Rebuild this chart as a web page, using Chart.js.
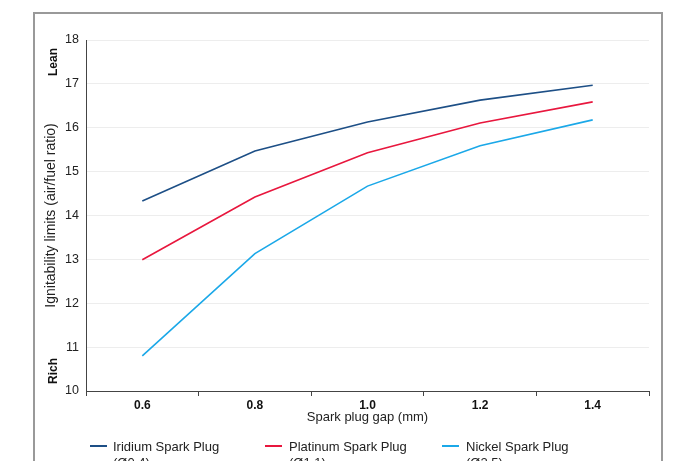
<!DOCTYPE html>
<html>
<head>
<meta charset="utf-8">
<script src="https://cdn.jsdelivr.net/npm/chart.js@4.4.1/dist/chart.umd.min.js"></script>
<style>
  html, body { margin:0; padding:0; background:#fff; overflow:hidden; width:675px; height:461px; }
  #frame { position:absolute; left:33px; top:12px; width:630px; height:470px; border:2px solid #999; border-bottom:none; box-sizing:border-box; }
  #c { position:absolute; left:0; top:0; }
  .lg { position:absolute; top:439px; font-family:"Liberation Sans", Arial, sans-serif; font-size:13px; line-height:16px; color:#222; }
  .sw { position:absolute; top:445px; width:17px; height:2px; }
</style>
</head>
<body>
<div id="frame"></div>
<canvas id="c" width="675" height="461"></canvas>
<div id="legend"></div>
<script>
const categories = ['0.6', '0.8', '1.0', '1.2', '1.4'];
const iridium  = [14.33, 15.47, 16.13, 16.63, 16.97];
const platinum = [12.99, 14.42, 15.43, 16.11, 16.59];
const nickel   = [10.80, 13.13, 14.67, 15.59, 16.18];
const seriesNames = ['Iridium Spark Plug', 'Platinum Spark Plug', 'Nickel Spark Plug'];
const seriesSizes = ['(Ø0.4)', '(Ø1.1)', '(Ø2.5)'];
const colors = ['#1d4f86', '#e8173e', '#1ba8e8'];
const yTitle = 'Ignitability limits (air/fuel ratio)';
const xTitle = 'Spark plug gap (mm)';

const FONT = '"Liberation Sans", Arial, sans-serif';

const sideLabels = {
  id: 'sideLabels',
  afterDraw(chart) {
    const ctx = chart.ctx;
    ctx.save();
    ctx.fillStyle = '#111';
    ctx.font = 'bold 12px ' + FONT;
    ctx.textAlign = 'center';
    ctx.textBaseline = 'middle';
    [['Lean', 62], ['Rich', 371]].forEach(([t, py]) => {
      ctx.save();
      ctx.translate(54, py);
      ctx.rotate(-Math.PI / 2);
      ctx.fillText(t, 0, 0);
      ctx.restore();
    });
    ctx.restore();
  }
};

new Chart(document.getElementById('c'), {
  type: 'line',
  data: {
    labels: categories,
    datasets: [
      { label: seriesNames[0], data: iridium, borderColor: colors[0] },
      { label: seriesNames[1], data: platinum, borderColor: colors[1] },
      { label: seriesNames[2], data: nickel, borderColor: colors[2] }
    ].map(d => Object.assign(d, { borderWidth: 1.6, pointRadius: 0, fill: false, tension: 0 }))
  },
  options: {
    responsive: false,
    animation: false,
    devicePixelRatio: 1,
    layout: { padding: { left: 0, top: 40, right: 26, bottom: 30 } },
    plugins: { legend: { display: false }, tooltip: { enabled: false } },
    scales: {
      x: {
        type: 'category',
        offset: true,
        afterFit(s) { s.height = 40; },
        grid: { offset: true, drawOnChartArea: false, drawTicks: true, tickLength: 5, color: '#444' },
        border: { display: true, color: '#444', width: 1 },
        ticks: { padding: 2, color: '#111', font: { family: FONT, size: 12, weight: 'bold' } },
        title: { display: true, text: xTitle, color: '#222', padding: { top: 0, bottom: 6 }, font: { family: FONT, size: 13 } }
      },
      y: {
        min: 10, max: 18,
        afterFit(s) { s.width = 86; },
        ticks: { stepSize: 1, padding: 7, color: '#222', font: { family: FONT, size: 12.5 } },
        grid: { color: '#ededed', drawTicks: false },
        border: { display: true, color: '#444', width: 1 },
        title: { display: true, text: yTitle, color: '#222', padding: { top: 43, bottom: 0 }, font: { family: FONT, size: 14 } }
      }
    }
  },
  plugins: [sideLabels]
});

const legendPos = [[90, 113], [265, 289], [442, 466]];
const lg = document.getElementById('legend');
seriesNames.forEach((n, i) => {
  const sw = document.createElement('div');
  sw.className = 'sw';
  sw.style.left = legendPos[i][0] + 'px';
  sw.style.background = colors[i];
  lg.appendChild(sw);
  const t = document.createElement('div');
  t.className = 'lg';
  t.style.left = legendPos[i][1] + 'px';
  t.innerHTML = n + '<br>' + seriesSizes[i];
  lg.appendChild(t);
});
</script>
</body>
</html>
